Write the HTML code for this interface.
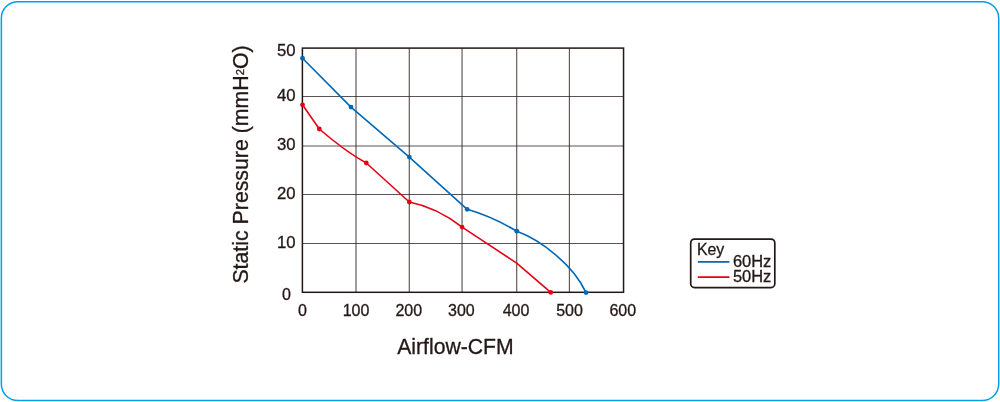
<!DOCTYPE html>
<html>
<head>
<meta charset="utf-8">
<title>Airflow chart</title>
<style>
html,body{margin:0;padding:0;background:#fff;}
body{width:1000px;height:402px;overflow:hidden;}
svg{display:block;}
text{font-family:"Liberation Sans",Arial,Helvetica,sans-serif;fill:#231815;stroke:#231815;stroke-width:0.3px;}
.tick{font-size:16px;}
.title{font-size:21.2px;}
</style>
</head>
<body>
<svg width="1000" height="402" viewBox="0 0 1000 402">
  <rect x="0" y="0" width="1000" height="402" fill="#ffffff"/>
  <!-- outer rounded frame -->
  <rect x="1.35" y="1.7" width="997.35" height="398.9" rx="16.5" ry="16.5" fill="none" stroke="#00a0e9" stroke-width="1.5"/>

  <!-- grid -->
  <g stroke="#231815" stroke-width="1.15" fill="none" stroke-opacity="0.74">
    <line x1="356" y1="48" x2="356" y2="292"/>
    <line x1="409.3" y1="48" x2="409.3" y2="292"/>
    <line x1="462.05" y1="48" x2="462.05" y2="292"/>
    <line x1="516.7" y1="48" x2="516.7" y2="292"/>
    <line x1="569.4" y1="48" x2="569.4" y2="292"/>
    <line x1="302.5" y1="96.5" x2="623.6" y2="96.5"/>
    <line x1="302.5" y1="146" x2="623.6" y2="146"/>
    <line x1="302.5" y1="194.5" x2="623.6" y2="194.5"/>
    <line x1="302.5" y1="243.5" x2="623.6" y2="243.5"/>
  </g>
  <!-- plot frame -->
  <rect x="302.4" y="48.1" width="321.15" height="244.2" fill="none" stroke="#231815" stroke-width="1.5"/>

  <!-- 60Hz curve -->
  <g stroke="#0068b7" stroke-width="1.6" fill="none" stroke-linecap="round" stroke-linejoin="round">
    <path d="M302.5 58.2 L351 107.1 L409.3 157.1 L467.2 209.3 Q492 216.5 516.8 231.2 C540.6 239.8 573.6 265 586 292.6"/>
  </g>
  <g fill="#0068b7">
    <circle cx="302.5" cy="58.2" r="2.4"/>
    <circle cx="351" cy="107.1" r="2.4"/>
    <circle cx="409.3" cy="157.1" r="2.4"/>
    <circle cx="467.2" cy="209.3" r="2.4"/>
    <circle cx="516.8" cy="231.2" r="2.4"/>
    <circle cx="586" cy="292.6" r="2.4"/>
  </g>

  <!-- 50Hz curve -->
  <g stroke="#e60012" stroke-width="1.6" fill="none" stroke-linecap="round" stroke-linejoin="round">
    <path d="M302.5 104.8 L319.3 129 Q346 152 366.3 163 L409.3 202 Q437.1 207.6 462.1 227.1 L516.7 263.1 L550.7 292.4"/>
  </g>
  <g fill="#e60012">
    <circle cx="302.5" cy="104.8" r="2.4"/>
    <circle cx="319.3" cy="129" r="2.4"/>
    <circle cx="366.3" cy="163" r="2.4"/>
    <circle cx="409.3" cy="202" r="2.4"/>
    <circle cx="462.1" cy="227.1" r="2.4"/>
    <circle cx="550.7" cy="292.4" r="2.4"/>
  </g>

  <!-- y tick labels -->
  <g class="tick" text-anchor="end">
    <text x="295.5" y="55.6" textLength="18.6" lengthAdjust="spacingAndGlyphs">50</text>
    <text x="295.5" y="100.9" textLength="18.6" lengthAdjust="spacingAndGlyphs">40</text>
    <text x="295.5" y="149.8" textLength="18.6" lengthAdjust="spacingAndGlyphs">30</text>
    <text x="295.5" y="199.2" textLength="18.6" lengthAdjust="spacingAndGlyphs">20</text>
    <text x="295.5" y="248" textLength="18.6" lengthAdjust="spacingAndGlyphs">10</text>
    <text x="290.8" y="300">0</text>
  </g>
  <!-- x tick labels -->
  <g class="tick" text-anchor="middle">
    <text x="302.4" y="315.7">0</text>
    <text x="356" y="315.7">100</text>
    <text x="408.8" y="315.7">200</text>
    <text x="461.4" y="315.7">300</text>
    <text x="516" y="315.7">400</text>
    <text x="569.5" y="315.7">500</text>
    <text x="622.8" y="315.7">600</text>
  </g>

  <!-- axis titles -->
  <text class="title" x="397.2" y="354">Airflow-CFM</text>
  <text class="title" style="font-size:21.3px" transform="translate(247.7 283.6) rotate(-90)">Static Pressure (mmH<tspan font-size="11.3px" dy="-3.8">2</tspan><tspan dy="3.8">O)</tspan></text>

  <!-- legend -->
  <rect x="690.7" y="239.1" width="84.1" height="48.5" rx="3.8" ry="3.8" fill="#fff" stroke="#231815" stroke-width="1.7"/>
  <text x="696.9" y="255.2" font-size="15.7" textLength="27.3" lengthAdjust="spacingAndGlyphs">Key</text>
  <line x1="697.8" y1="261.8" x2="729.4" y2="261.8" stroke="#0068b7" stroke-width="1.7"/>
  <line x1="697.8" y1="277.1" x2="729.4" y2="277.1" stroke="#e60012" stroke-width="1.7"/>
  <text class="tick" x="732.9" y="266.6" textLength="38.4" lengthAdjust="spacingAndGlyphs">60Hz</text>
  <text class="tick" x="732.9" y="281.8" textLength="38.4" lengthAdjust="spacingAndGlyphs">50Hz</text>
</svg>
</body>
</html>
